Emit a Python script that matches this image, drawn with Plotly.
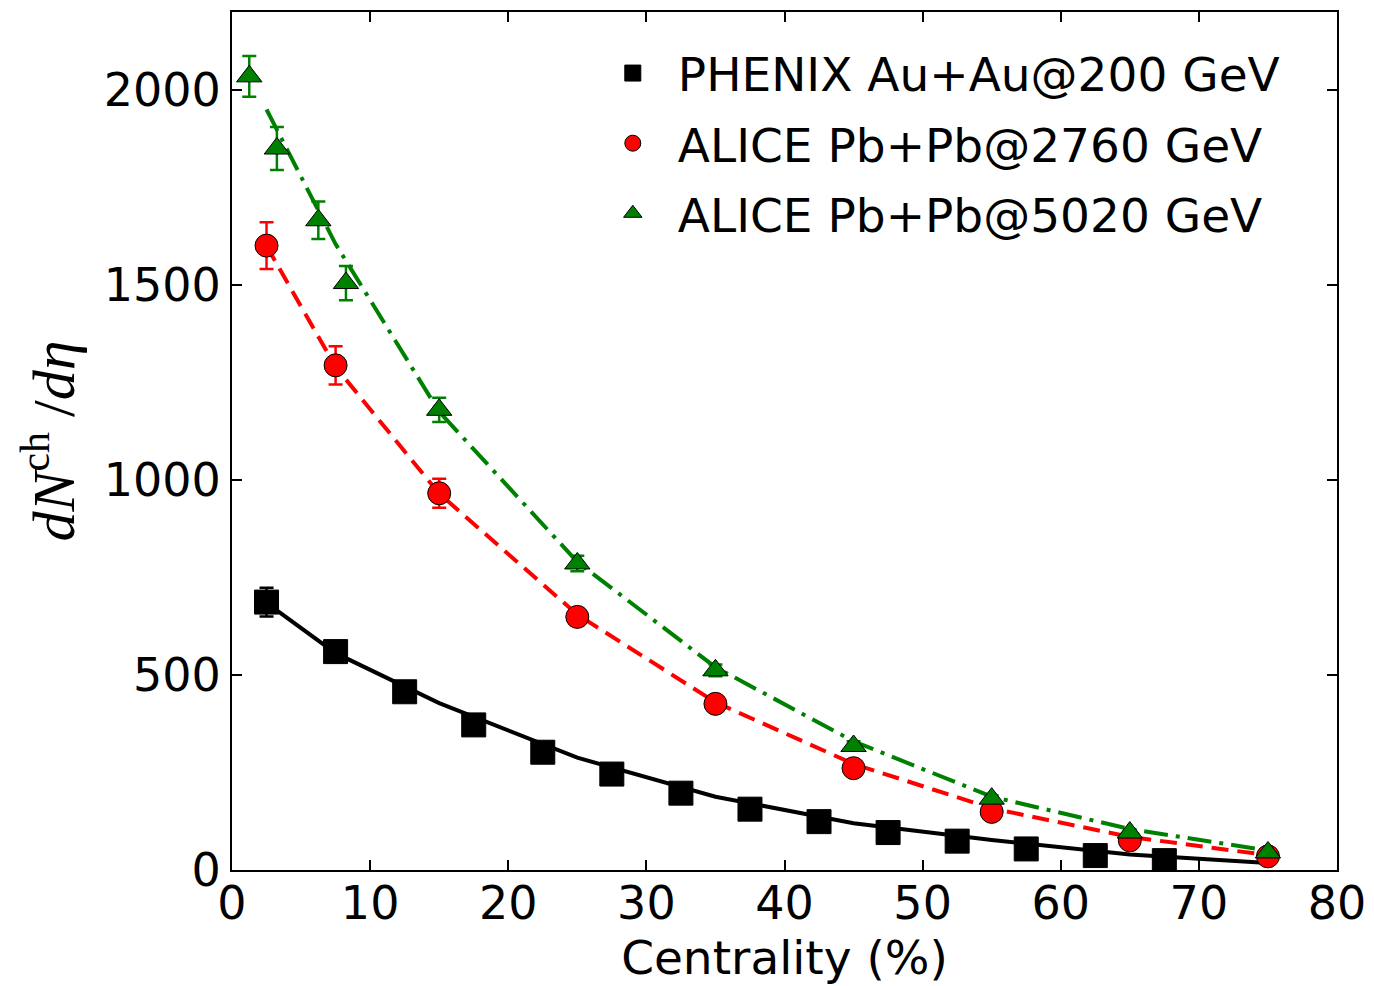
import plotly.graph_objects as go

# ---------------- data ----------------
phenix_x = [2.5, 7.5, 12.5, 17.5, 22.5, 27.5, 32.5, 37.5, 42.5, 47.5, 52.5, 57.5, 62.5, 67.5]
phenix_y = [687, 560, 457, 372, 302, 246, 197, 156, 124, 96, 74, 54, 37, 24]
phenix_err = [37, 27, 23, 19, 16, 14, 12, 10, 8, 6, 5, 4, 3, 2]

alice2760_x = [2.5, 7.5, 15, 25, 35, 45, 55, 65, 75]
alice2760_y = [1601, 1294, 966, 649, 426, 261, 149, 76, 35]
alice2760_err = [60, 49, 37, 23, 15, 9, 6, 4, 2]

alice5020_x = [1.25, 3.25, 6.25, 8.25, 15, 25, 35, 45, 55, 65, 75]
alice5020_y = [2035, 1850, 1666, 1505, 1180, 786, 512, 318, 183, 96, 45]
alice5020_err = [52, 55, 48, 44, 31, 20, 15, 12, 8, 6, 3]

model_x = [2.5, 7.5, 15, 25, 35, 45, 55, 65, 75]
model_200 = [685, 556, 428, 288, 188, 120, 77, 40, 18]
model_2760 = [1600, 1290, 965, 655, 430, 272, 158, 85, 38]
model_5020 = [1950, 1605, 1175, 790, 520, 330, 188, 105, 50]

labels = ["PHENIX Au+Au@200 GeV", "ALICE Pb+Pb@2760 GeV", "ALICE Pb+Pb@5020 GeV"]

BLACK, RED, GREEN = "#000000", "#ff0000", "#008000"
FONT = "DejaVu Sans"

fig = go.Figure()

# model curves
fig.add_trace(go.Scatter(x=model_x, y=model_200, mode="lines",
                         line=dict(color=BLACK, width=4), showlegend=False, hoverinfo="skip"))
fig.add_trace(go.Scatter(x=model_x, y=model_2760, mode="lines",
                         line=dict(color=RED, width=4, dash="17px,9px"), showlegend=False, hoverinfo="skip"))
fig.add_trace(go.Scatter(x=model_x, y=model_5020, mode="lines",
                         line=dict(color=GREEN, width=4, dash="24px,8px,4px,8px"), showlegend=False, hoverinfo="skip"))

# data
fig.add_trace(go.Scatter(
    x=phenix_x, y=phenix_y, mode="markers", name=labels[0], legendgroup="a",
    marker=dict(symbol="square", size=24, color=BLACK, line=dict(color=BLACK, width=1)),
    error_y=dict(type="data", array=phenix_err, color=BLACK, thickness=2.5, width=7)))
fig.add_trace(go.Scatter(
    x=alice2760_x, y=alice2760_y, mode="markers", name=labels[1], legendgroup="b",
    marker=dict(symbol="circle", size=23, color=RED, line=dict(color=BLACK, width=1)),
    error_y=dict(type="data", array=alice2760_err, color=RED, thickness=2.5, width=7)))
fig.add_trace(go.Scatter(
    x=alice5020_x, y=alice5020_y, mode="markers", name=labels[2], legendgroup="c",
    marker=dict(symbol="triangle-up", size=22, color=GREEN, line=dict(color=BLACK, width=1)),
    error_y=dict(type="data", array=alice5020_err, color=GREEN, thickness=2.5, width=7)))

axis_common = dict(
    showline=True, linecolor="black", linewidth=2, mirror="ticks",
    ticks="inside", ticklen=10, tickwidth=1.5, tickcolor="black",
    showgrid=False, zeroline=False, automargin=False,
    tickfont=dict(family=FONT, size=46, color="black"),
)

fig.update_xaxes(range=[0, 80], dtick=10, tick0=0, ticklabelstandoff=-8,
                 title=dict(text="Centrality (%)", font=dict(family=FONT, size=47, color="black"), standoff=12),
                 **axis_common)
fig.update_yaxes(range=[0, 2200], tickvals=[0, 500, 1000, 1500, 2000],
                 title=dict(text="<i>dN</i><sup>ch</sup> /<i>dη</i>",
                            font=dict(family="Liberation Serif", size=60, color="black"), standoff=10),
                 **axis_common)

fig.update_layout(
    width=1374, height=986,
    margin=dict(l=232, r=37, t=12, b=116),
    paper_bgcolor="white", plot_bgcolor="white",
    showlegend=True,
    legend=dict(x=0.322, y=0.972, xanchor="left", yanchor="top",
                font=dict(family=FONT, size=47, color="black"),
                bgcolor="rgba(0,0,0,0)", borderwidth=0,
                itemwidth=80, tracegroupgap=6),
)

fig.write_html("out.html")
